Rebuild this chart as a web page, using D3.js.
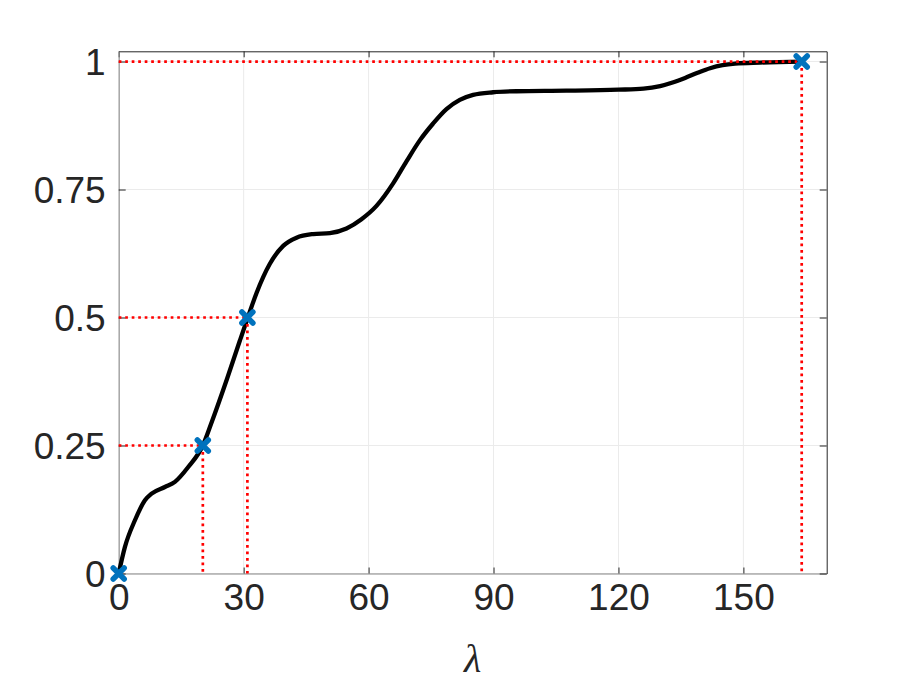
<!DOCTYPE html>
<html><head><meta charset="utf-8">
<script src="https://cdn.jsdelivr.net/npm/d3@7"></script>
<style>body{margin:0;background:#fff;} svg{display:block;}</style>
</head><body>
<svg id="c" width="913" height="685"></svg>
<script>
const lambda = [0,1.5,3.9,6.3,7.9,11.1,13.5,16.7,20.2,22.3,26,29.1,31,33.1,36.3,39.5,42.7,46.7,50.7,54.7,58.3,61.9,65.9,69.1,72.3,75.5,78.7,81.9,85.1,89.9,95.5,107.5,120,126,130,133,136,139,142,145,148,154,164];
const cdf = [0,0.052,0.104,0.143,0.156,0.169,0.179,0.208,0.25,0.295,0.38,0.455,0.5,0.548,0.605,0.64,0.656,0.663,0.665,0.674,0.692,0.718,0.762,0.805,0.846,0.879,0.907,0.925,0.935,0.94,0.942,0.943,0.945,0.947,0.952,0.959,0.968,0.978,0.987,0.993,0.996,0.998,1.0];
const markX = [0,20.2,30.9,164];
const markY = [0,0.25,0.5,1];
const xTicks = [0,30,60,90,120,150];
const yTicks = [0,0.25,0.5,0.75,1];
const yTickLabels = ["0","0.25","0.5","0.75","1"];

const svg = d3.select("#c");
const L=118.7, R=826.7, T=51.3, B=573.5;
const x = d3.scaleLinear().domain([0,170]).range([L,R]);
const y = d3.scaleLinear().domain([0,1.02]).range([B,T]);

// grid
svg.append("g").selectAll("line").data(xTicks).join("line")
  .attr("x1",d=>x(d)).attr("x2",d=>x(d)).attr("y1",T).attr("y2",B)
  .attr("stroke","#ebebeb").attr("stroke-width",1);
svg.append("g").selectAll("line").data(yTicks).join("line")
  .attr("y1",d=>y(d)).attr("y2",d=>y(d)).attr("x1",L).attr("x2",R)
  .attr("stroke","#ebebeb").attr("stroke-width",1);

// axes
const xb = svg.append("g").attr("transform",`translate(0,${B})`)
  .call(d3.axisBottom(x).tickValues(xTicks).tickSizeInner(-6).tickSizeOuter(0).tickPadding(14).tickFormat(d3.format("d")));
const xt = svg.append("g").attr("transform",`translate(0,${T})`)
  .call(d3.axisTop(x).tickValues(xTicks).tickSizeInner(-6).tickSizeOuter(0).tickFormat(""));
const yl = svg.append("g").attr("transform",`translate(${L},0)`)
  .call(d3.axisLeft(y).tickValues(yTicks).tickSizeInner(-7).tickSizeOuter(0).tickPadding(13).tickFormat((d,i)=>yTickLabels[i]));
const yr = svg.append("g").attr("transform",`translate(${R},0)`)
  .call(d3.axisRight(y).tickValues(yTicks).tickSizeInner(-7).tickSizeOuter(0).tickFormat(""));
[xb,xt,yl,yr].forEach(g=>{
  g.select(".domain").attr("stroke","#262626").attr("stroke-width",1);
  g.selectAll(".tick line").attr("stroke","#262626").attr("stroke-width",1);
  g.selectAll("text").attr("font-family","'Liberation Sans', Arial, sans-serif").attr("font-size",37).attr("fill","#262626");
});
xb.selectAll(".domain").attr("stroke","#858585");
yl.selectAll(".domain").attr("stroke","#858585");
xb.selectAll("text").attr("dy","0.62em");
yl.selectAll("text").attr("dy","0.36em");

// curve
const pts = lambda.map((v,i)=>[v,cdf[i]]);
svg.append("path").datum(pts)
  .attr("d", d3.line().x(d=>x(d[0])).y(d=>y(d[1])).curve(d3.curveMonotoneX))
  .attr("fill","none").attr("stroke","#000").attr("stroke-width",4.3).attr("stroke-linejoin","round");

// red dotted guides
const guides = svg.append("g").attr("stroke","#ff0000").attr("stroke-width",2.7).attr("stroke-dasharray","2.7,3.8").attr("fill","none");
markX.forEach((mx,i)=>{
  if (i===0) return;
  guides.append("line").attr("x1",x(0)).attr("x2",x(mx)).attr("y1",y(markY[i])).attr("y2",y(markY[i]));
  guides.append("line").attr("x1",x(mx)).attr("x2",x(mx)).attr("y1",y(markY[i])).attr("y2",y(0));
});

// markers
const s=5.5;
svg.append("g").selectAll("path").data(markX.map((v,i)=>[v,markY[i]])).join("path")
  .attr("d",d=>{const cx=x(d[0]),cy=y(d[1]);return `M${cx-s},${cy-s}L${cx+s},${cy+s}M${cx-s},${cy+s}L${cx+s},${cy-s}`;})
  .attr("stroke","#0072BD").attr("stroke-width",5.5).attr("stroke-linecap","round").attr("fill","none");

// x label
svg.append("text").attr("x",(L+R)/2).attr("y",672).attr("text-anchor","middle")
  .attr("font-family","'Liberation Serif', 'DejaVu Serif', serif").attr("font-style","italic")
  .attr("font-size",40).attr("fill","#262626").text("λ");
</script>
</body></html>
